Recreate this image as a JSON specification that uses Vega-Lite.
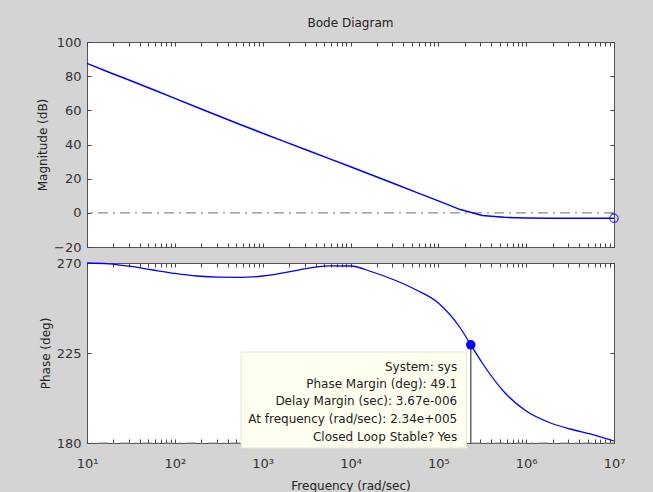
{
  "$schema": "https://vega.github.io/schema/vega-lite/v6.json",
  "background": "#d4d4d4",
  "autosize": {"type": "pad"},
  "padding": {"left": 36, "top": 16, "right": 27, "bottom": 0},
  "spacing": 1,
  "config": {
    "font": "DejaVu Sans",
    "view": {"stroke": "#555555", "strokeWidth": 1, "fill": "white"},
    "axis": {
      "domain": false,
      "grid": false,
      "tickColor": "#444444",
      "tickSize": -4,
      "labelColor": "#333333",
      "labelFont": "DejaVu Sans",
      "labelFontSize": 13,
      "titleFont": "DejaVu Sans",
      "titleFontSize": 12,
      "titleFontWeight": "normal",
      "titleColor": "#222222"
    },
    "title": {"font": "DejaVu Sans", "fontSize": 12, "fontWeight": "normal", "color": "#222222"}
  },
  "vconcat": [
    {
      "width": 527,
      "height": 205,
      "title": {"text": "Bode Diagram", "anchor": "middle", "frame": "group", "offset": 6},
      "resolve": {"axis": {"x": "independent", "y": "independent"}},
      "layer": [
        {
          "data": {"values": [{"db": 0}]},
          "mark": {"type": "rule", "color": "#8c8c8c", "strokeWidth": 1.2, "strokeDash": [10, 5, 2, 5]},
          "encoding": {"y": {"field": "db", "type": "quantitative", "axis": null}}
        },
        {
          "data": {"values": [
            {"f": 10, "db": 87.5}, {"f": 17.78, "db": 82.3}, {"f": 31.62, "db": 77.3}, {"f": 56.23, "db": 72.2},
            {"f": 100, "db": 67.0}, {"f": 177.8, "db": 61.8}, {"f": 316.2, "db": 56.7}, {"f": 562.3, "db": 51.6},
            {"f": 1000, "db": 46.6}, {"f": 1778, "db": 41.7}, {"f": 3162, "db": 36.8}, {"f": 5623, "db": 31.9},
            {"f": 10000, "db": 27.0}, {"f": 17783, "db": 22.0}, {"f": 31623, "db": 17.0}, {"f": 56234, "db": 12.0},
            {"f": 100000, "db": 7.0}, {"f": 177828, "db": 1.9}, {"f": 316228, "db": -1.5}, {"f": 562341, "db": -2.6},
            {"f": 1000000, "db": -3.0}, {"f": 1778279, "db": -3.2}, {"f": 3162278, "db": -3.2}, {"f": 10000000, "db": -3.2}
          ]},
          "mark": {"type": "line", "color": "#0000ff", "strokeWidth": 1.5},
          "encoding": {
            "x": {"field": "f", "type": "quantitative",
              "scale": {"type": "log", "domain": [10, 10000000], "nice": false},
              "axis": {"orient": "bottom", "title": null, "labels": false,
                "values": [10,20,30,40,50,60,70,80,90,100,200,300,400,500,600,700,800,900,1000,2000,3000,4000,5000,6000,7000,8000,9000,10000,20000,30000,40000,50000,60000,70000,80000,90000,100000,200000,300000,400000,500000,600000,700000,800000,900000,1000000,2000000,3000000,4000000,5000000,6000000,7000000,8000000,9000000,10000000]}},
            "y": {"field": "db", "type": "quantitative",
              "scale": {"domain": [-20, 100], "nice": false, "zero": false},
              "axis": {"orient": "left", "title": "Magnitude (dB)", "values": [-20, 0, 20, 40, 60, 80, 100], "labelPadding": 10, "titlePadding": 4}}
          }
        },
        {
          "data": {"values": [{"f": 10000000, "db": -3.2}]},
          "mark": {"type": "point", "shape": "circle", "filled": false, "color": "#0000ff", "size": 70, "strokeWidth": 1.3},
          "encoding": {
            "x": {"field": "f", "type": "quantitative",
              "axis": {"orient": "top", "title": null, "labels": false,
                "values": [10,20,30,40,50,60,70,80,90,100,200,300,400,500,600,700,800,900,1000,2000,3000,4000,5000,6000,7000,8000,9000,10000,20000,30000,40000,50000,60000,70000,80000,90000,100000,200000,300000,400000,500000,600000,700000,800000,900000,1000000,2000000,3000000,4000000,5000000,6000000,7000000,8000000,9000000,10000000]}},
            "y": {"field": "db", "type": "quantitative",
              "axis": {"orient": "right", "title": null, "labels": false, "values": [-20, 0, 20, 40, 60, 80, 100]}}
          }
        }
      ]
    },
    {
      "width": 527,
      "height": 180,
      "resolve": {"axis": {"x": "independent", "y": "independent"}},
      "layer": [
        {
          "data": {"values": [{"ph": 180}]},
          "mark": {"type": "rule", "color": "#8c8c8c", "strokeWidth": 1.2, "strokeDash": [10, 5, 2, 5]},
          "encoding": {"y": {"field": "ph", "type": "quantitative", "axis": null}}
        },
        {
          "data": {"values": [
            {"f": 10, "ph": 270}, {"f": 17.78, "ph": 269.6}, {"f": 31.62, "ph": 268.3}, {"f": 56.23, "ph": 266.5},
            {"f": 100, "ph": 264.8}, {"f": 177.8, "ph": 263.5}, {"f": 316.2, "ph": 262.9}, {"f": 562.3, "ph": 262.8},
            {"f": 1000, "ph": 263.5}, {"f": 1778, "ph": 265.2}, {"f": 3162, "ph": 267.2}, {"f": 5623, "ph": 268.6},
            {"f": 10000, "ph": 268.5}, {"f": 17783, "ph": 265.5}, {"f": 31623, "ph": 261.5}, {"f": 56234, "ph": 256.5},
            {"f": 100000, "ph": 250.0}, {"f": 177828, "ph": 237.5}, {"f": 234000, "ph": 229.1}, {"f": 316228, "ph": 220.0},
            {"f": 562341, "ph": 205.5}, {"f": 1000000, "ph": 196.0}, {"f": 1778279, "ph": 190.5}, {"f": 3162278, "ph": 187.0},
            {"f": 5623413, "ph": 184.3}, {"f": 10000000, "ph": 181.0}
          ]},
          "mark": {"type": "line", "color": "#0000ff", "strokeWidth": 1.3, "interpolate": "monotone"},
          "encoding": {
            "x": {"field": "f", "type": "quantitative",
              "scale": {"type": "log", "domain": [10, 10000000], "nice": false},
              "axis": {"orient": "bottom", "title": "Frequency  (rad/sec)", "labelPadding": 18, "titlePadding": 10,
                "labelOverlap": false, "labelFlush": false,
                "labelExpr": "abs(log(datum.value)/LN10 - round(log(datum.value)/LN10)) < 0.001 ? '10' + substring('⁰¹²³⁴⁵⁶⁷⁸⁹', round(log(datum.value)/LN10), round(log(datum.value)/LN10) + 1) : ''",
                "values": [10,20,30,40,50,60,70,80,90,100,200,300,400,500,600,700,800,900,1000,2000,3000,4000,5000,6000,7000,8000,9000,10000,20000,30000,40000,50000,60000,70000,80000,90000,100000,200000,300000,400000,500000,600000,700000,800000,900000,1000000,2000000,3000000,4000000,5000000,6000000,7000000,8000000,9000000,10000000]}},
            "y": {"field": "ph", "type": "quantitative",
              "scale": {"domain": [180, 270], "nice": false, "zero": false},
              "axis": {"orient": "left", "title": "Phase (deg)", "values": [180, 225, 270], "labelPadding": 10, "titlePadding": 4}}
          }
        },
        {
          "data": {"values": [{"f": 234000, "ph": 229.1, "ph2": 180}]},
          "mark": {"type": "rule", "color": "#666666", "strokeWidth": 1.5},
          "encoding": {
            "x": {"field": "f", "type": "quantitative", "axis": null},
            "y": {"field": "ph", "type": "quantitative", "axis": null},
            "y2": {"field": "ph2"}
          }
        },
        {
          "data": {"values": [{"f1": 568, "f2": 209000, "p1": 225.5, "p2": 177.5}]},
          "mark": {"type": "rect", "fill": "#fffff0", "stroke": "#e6e6d8", "strokeWidth": 1},
          "encoding": {
            "x": {"field": "f1", "type": "quantitative", "axis": null},
            "x2": {"field": "f2"},
            "y": {"field": "p1", "type": "quantitative", "axis": null},
            "y2": {"field": "p2"}
          }
        },
        {
          "data": {"values": [
            {"t": "System: sys", "f": 164000, "ph": 218.2},
            {"t": "Phase Margin (deg): 49.1", "f": 164000, "ph": 209.3},
            {"t": "Delay Margin (sec): 3.67e-006", "f": 164000, "ph": 201.2},
            {"t": "At frequency (rad/sec): 2.34e+005", "f": 164000, "ph": 192.2},
            {"t": "Closed Loop Stable? Yes", "f": 164000, "ph": 183.2}
          ]},
          "mark": {"type": "text", "align": "right", "baseline": "middle", "font": "DejaVu Sans", "fontSize": 12, "color": "#222222"},
          "encoding": {
            "x": {"field": "f", "type": "quantitative", "axis": null},
            "y": {"field": "ph", "type": "quantitative", "axis": null},
            "text": {"field": "t"}
          }
        },
        {
          "data": {"values": [{"f": 234000, "ph": 229.1}]},
          "mark": {"type": "point", "shape": "circle", "filled": true, "color": "#0000ff", "size": 90, "opacity": 1},
          "encoding": {
            "x": {"field": "f", "type": "quantitative",
              "axis": {"orient": "top", "title": null, "labels": false,
                "values": [10,20,30,40,50,60,70,80,90,100,200,300,400,500,600,700,800,900,1000,2000,3000,4000,5000,6000,7000,8000,9000,10000,20000,30000,40000,50000,60000,70000,80000,90000,100000,200000,300000,400000,500000,600000,700000,800000,900000,1000000,2000000,3000000,4000000,5000000,6000000,7000000,8000000,9000000,10000000]}},
            "y": {"field": "ph", "type": "quantitative",
              "axis": {"orient": "right", "title": null, "labels": false, "values": [180, 225, 270]}}
          }
        }
      ]
    }
  ]
}
